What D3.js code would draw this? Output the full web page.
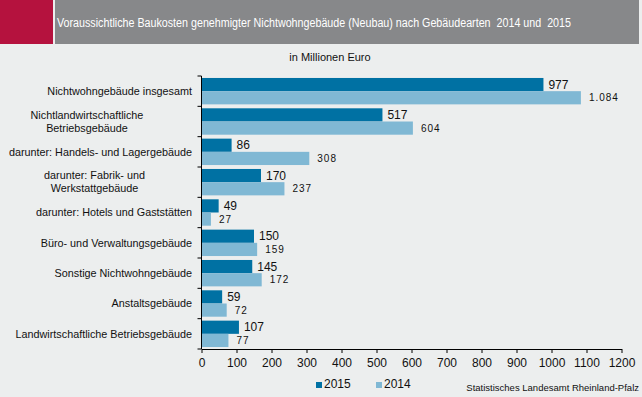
<!DOCTYPE html>
<html>
<head>
<meta charset="utf-8">
<script src="https://cdn.jsdelivr.net/npm/d3@7"></script>
<style>
  body { margin: 0; background: #eceeee; }
  svg { display: block; font-family: "Liberation Sans", Arial, sans-serif; }
</style>
</head>
<body>
<svg id="canvas"></svg>
<script>
//--data
let categories = [
    ["Nichtwohngebäude insgesamt"],
    ["Nichtlandwirtschaftliche", "Betriebsgebäude"],
    ["darunter: Handels- und Lagergebäude"],
    ["darunter: Fabrik- und", "Werkstattgebäude"],
    ["darunter: Hotels und Gaststätten"],
    ["Büro- und Verwaltungsgebäude"],
    ["Sonstige Nichtwohngebäude"],
    ["Anstaltsgebäude"],
    ["Landwirtschaftliche Betriebsgebäude"]
];
let values2015 = [977, 517, 86, 170, 49, 150, 145, 59, 107];
let values2014 = [1084, 604, 308, 237, 27, 159, 172, 72, 77];
let seriesNames = ["2015", "2014"];
let xTicks = [0, 100, 200, 300, 400, 500, 600, 700, 800, 900, 1000, 1100, 1200];
//--

let width = 642;
let height = 397;
let colors = ["#0071a3", "#80b8d4"];

let canvas = d3.select("#canvas")
canvas.attr("width", width)
canvas.attr("height", height)

//--title band
canvas.append("rect").attr("x", 0).attr("y", 0).attr("width", 53).attr("height", 44).attr("fill", "#b5123e")
canvas.append("rect").attr("x", 55).attr("y", 0).attr("width", 584).attr("height", 44).attr("fill", "#87888a")
canvas.append("text")
    .attr("x", 57).attr("y", 27)
    .attr("fill", "#ffffff")
    .attr("font-size", 12)
    .attr("xml:space", "preserve")
    .style("white-space", "pre")
    .attr("textLength", 514)
    .attr("lengthAdjust", "spacingAndGlyphs")
    .text("Voraussichtliche Baukosten genehmigter Nichtwohngebäude (Neubau) nach Gebäudearten  2014 und  2015")

canvas.append("text")
    .attr("x", 330).attr("y", 61)
    .attr("text-anchor", "middle")
    .attr("font-size", 11)
    .attr("fill", "#111")
    .text("in Millionen Euro")

//--scales
let x = d3.scaleLinear().domain([0, 1200]).range([201.5, 621.5])
let y = d3.scaleBand().domain(d3.range(categories.length)).range([76, 349]).paddingInner(0.13).paddingOuter(0.065)
let ySub = d3.scaleBand().domain([0, 1]).range([0, y.bandwidth()])

let group = canvas.selectAll("g.cat")
    .data(categories.map((c, i) => ({ label: c, vals: [values2015[i], values2014[i]], i: i })))
    .enter()
    .append("g")
    .attr("class", "cat")
    .attr("transform", d => "translate(0," + y(d.i) + ")")

group.selectAll("rect")
    .data(d => d.vals)
    .enter()
    .append("rect")
    .attr("x", x(0))
    .attr("y", (v, j) => ySub(j))
    .attr("width", v => x(v) - x(0))
    .attr("height", ySub.bandwidth())
    .attr("fill", (v, j) => colors[j])

// value labels
let fmt = v => v >= 1000 ? d3.format(",")(v).replace(",", ".") : String(v)
group.selectAll("text.val")
    .data(d => d.vals)
    .enter()
    .append("text")
    .attr("class", "val")
    .attr("x", (v, j) => x(v) + (j === 0 ? 5 : 8))
    .attr("y", (v, j) => ySub(j) + ySub.bandwidth() / 2)
    .attr("dy", "0.35em")
    .attr("font-size", (v, j) => j === 0 ? 12 : 10)
    .attr("letter-spacing", (v, j) => j === 0 ? 0 : 1)
    .attr("fill", "#111")
    .text(v => fmt(v))

// category labels, centred lines in a right-aligned block
group.each(function(d) {
    let g = d3.select(this)
    let t = g.append("text")
        .attr("font-size", 10.8)
        .attr("fill", "#111")
        .attr("text-anchor", "middle")
    let n = d.label.length
    d.label.forEach((line, k) => {
        t.append("tspan").text(line)
            .attr("y", y.bandwidth() / 2 + (k - (n - 1) / 2) * 13)
            .attr("dy", "0.35em")
    })
    let w = t.node().getBBox().width
    t.selectAll("tspan").attr("x", 192 - w / 2)
})

//--axes
let yAxisTicks = d3.range(categories.length + 1).map(i => 76 + i * (273 / categories.length))
canvas.append("line").attr("x1", x(0)).attr("x2", x(0)).attr("y1", 76).attr("y2", 349).attr("stroke", "#000")
canvas.selectAll("line.yt")
    .data(yAxisTicks)
    .enter()
    .append("line")
    .attr("class", "yt")
    .attr("x1", x(0) - 4).attr("x2", x(0))
    .attr("y1", d => d).attr("y2", d => d)
    .attr("stroke", "#000")

let xAxis = canvas.append("g")
    .attr("transform", "translate(0,349)")
    .call(d3.axisBottom(x).tickValues(xTicks).tickFormat(d3.format("d")).tickSize(4).tickSizeOuter(0))
xAxis.select(".domain").attr("stroke", "#000")
xAxis.selectAll("text").attr("font-size", 12).attr("fill", "#111").attr("dy", "0.9em")
    .attr("font-family", "Liberation Sans, Arial, sans-serif")

//--legend
let legend = canvas.selectAll("g.leg")
    .data(seriesNames)
    .enter()
    .append("g")
    .attr("class", "leg")
    .attr("transform", (d, i) => "translate(" + (316 + i * 60) + ",382)")
legend.append("rect").attr("width", 6).attr("height", 6).attr("fill", (d, i) => colors[i])
legend.append("text").attr("x", 8).attr("y", 6).attr("font-size", 12).attr("fill", "#111").text(d => d)

canvas.append("text")
    .attr("x", 639).attr("y", 391)
    .attr("text-anchor", "end")
    .attr("font-size", 9.5)
    .attr("fill", "#111")
    .text("Statistisches Landesamt Rheinland-Pfalz")
</script>
</body>
</html>
